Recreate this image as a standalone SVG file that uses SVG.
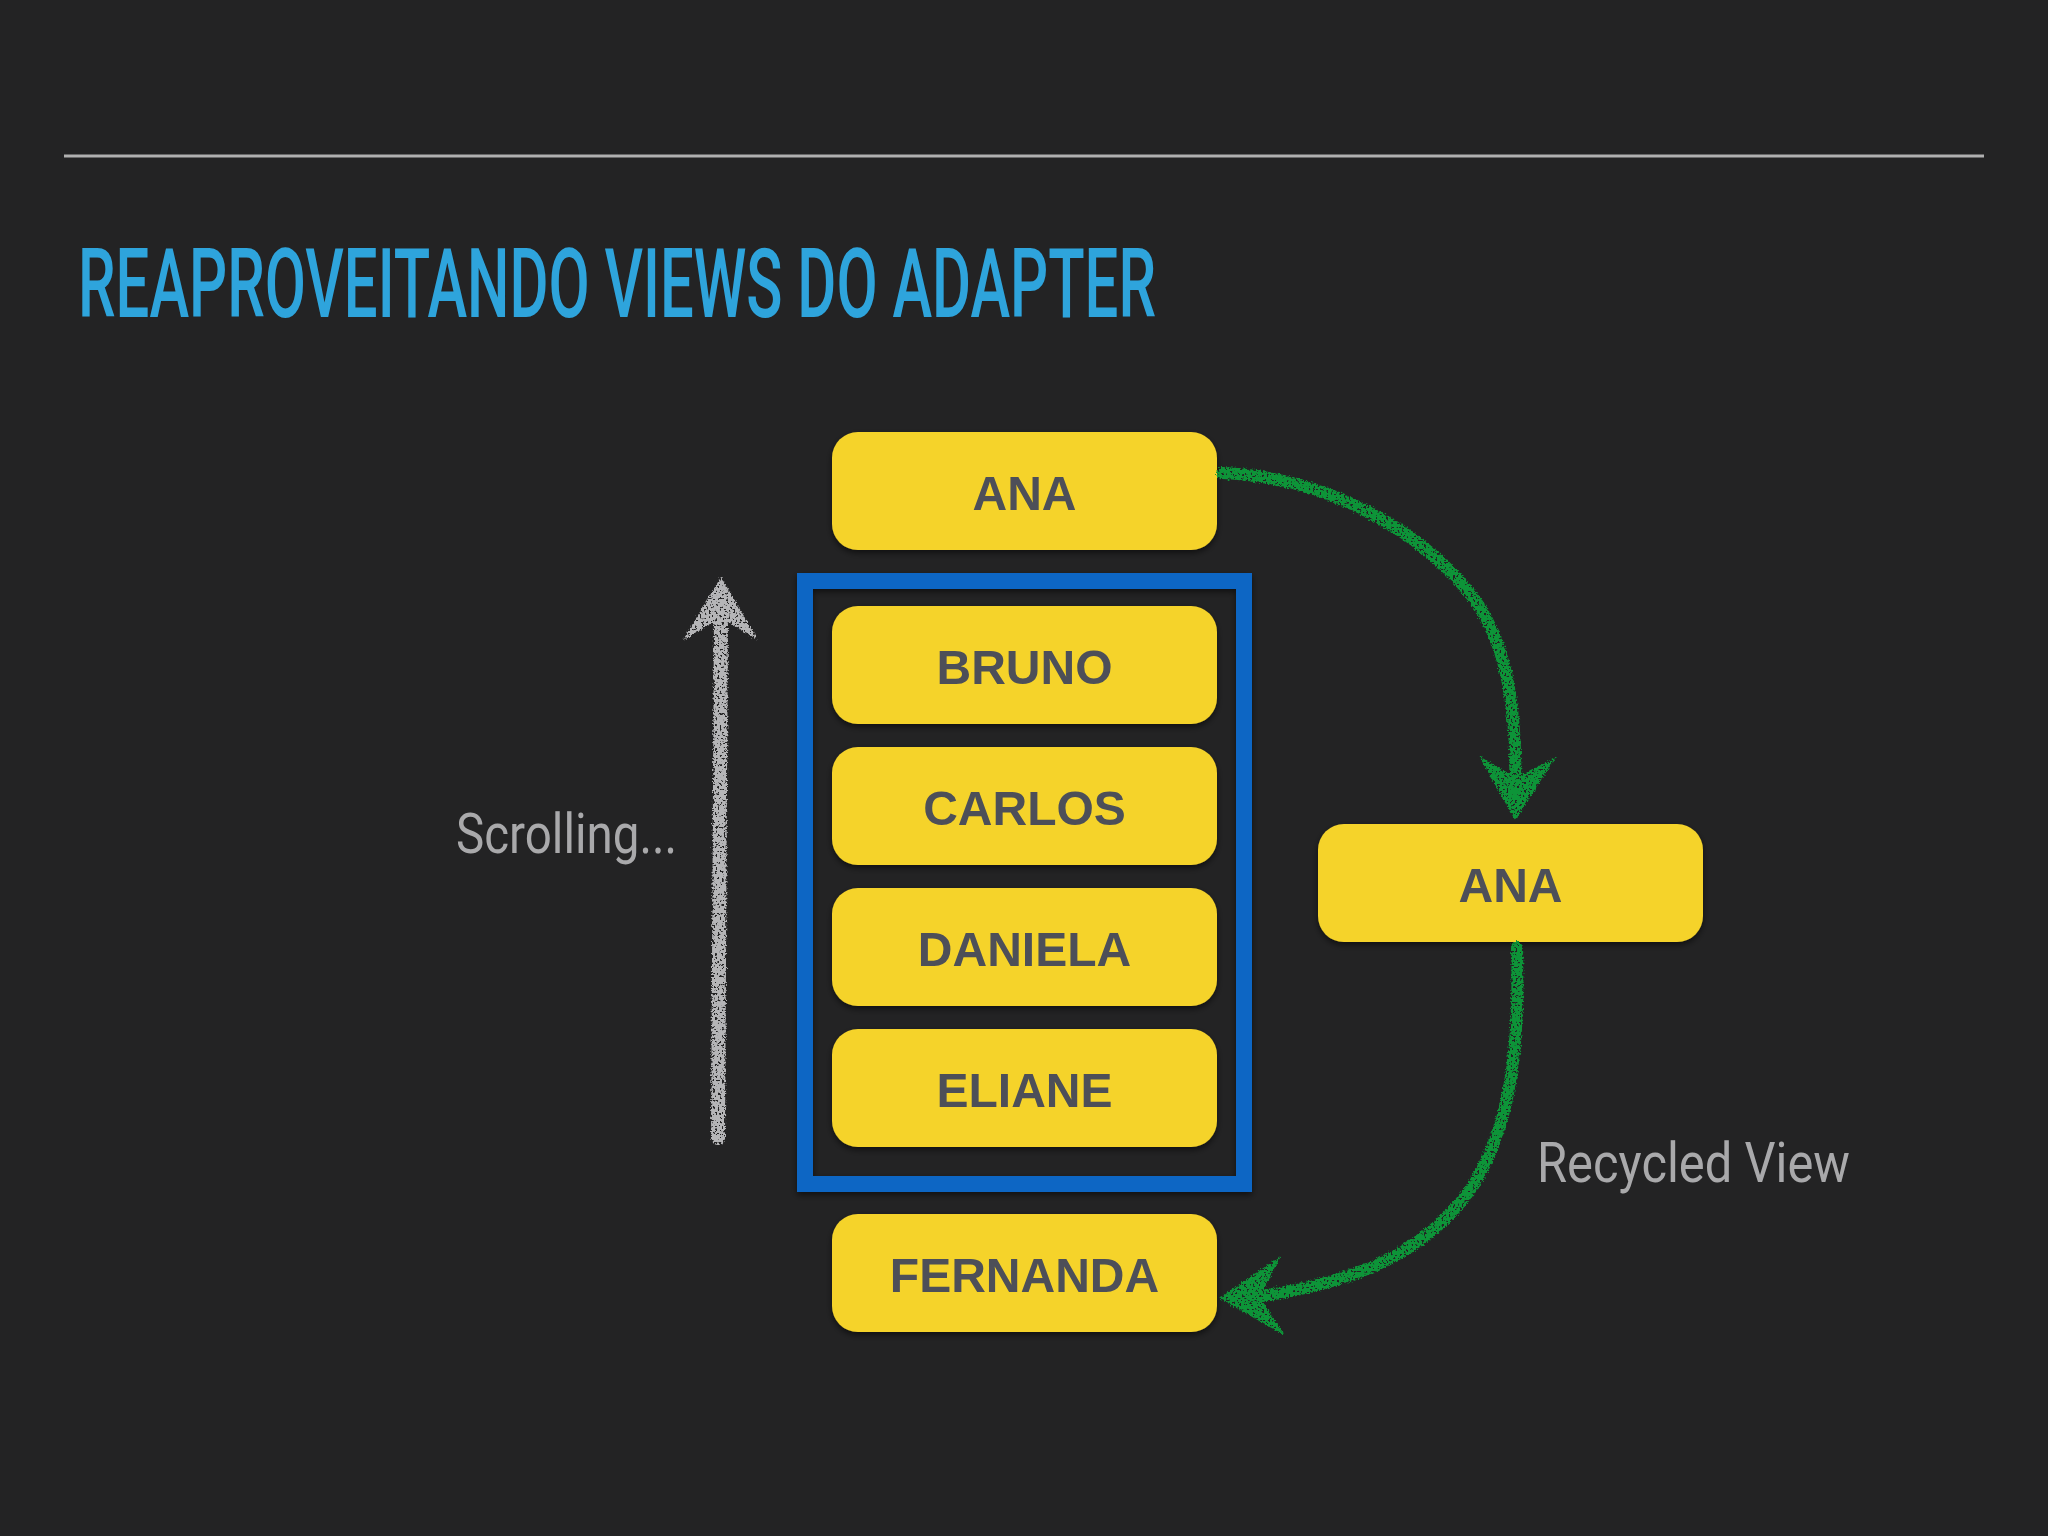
<svg xmlns="http://www.w3.org/2000/svg" width="2048" height="1536" viewBox="0 0 2048 1536">
  <style>
    .box { fill: #f5d32b; }
    .lbl { font-family: "Liberation Sans", Arial, sans-serif; font-weight: 700; font-size: 48px; fill: #4d5058; text-anchor: middle; }
    .note { font-family: Roboto, "Liberation Sans", sans-serif; font-size: 56px; fill: #a9a9ab; }
    .green { fill: none; stroke: #0b9437; stroke-width: 12; stroke-linecap: round; }
    .greenhead { fill: #0b9437; }
  </style>
  <defs>
    <filter id="shadow" x="-10%" y="-20%" width="120%" height="150%">
      <feDropShadow dx="0" dy="3" stdDeviation="3" flood-color="#000" flood-opacity="0.55"/>
    </filter>
    <filter id="chalk" x="-20%" y="-10%" width="140%" height="120%">
      <feTurbulence type="fractalNoise" baseFrequency="0.6" numOctaves="2" seed="3" result="n"/>
      <feDisplacementMap in="SourceGraphic" in2="n" scale="5" xChannelSelector="R" yChannelSelector="G" result="d"/>
      <feTurbulence type="fractalNoise" baseFrequency="0.45" numOctaves="2" seed="11" result="n2"/>
      <feColorMatrix in="n2" type="matrix" values="0 0 0 0 0  0 0 0 0 0  0 0 0 0 0  0 0 0 -14 9.4" result="m"/>
      <feComposite in="d" in2="m" operator="in"/>
    </filter>
  </defs>

  <rect x="0" y="0" width="2048" height="1536" fill="#232324"/>
  <line x1="64" y1="156" x2="1984" y2="156" stroke="#b0b0b0" stroke-width="3"/>
  <text x="78" y="317" font-family="Roboto, 'Liberation Sans', sans-serif" font-weight="500" font-size="97" fill="#2ea4dc" textLength="1078" lengthAdjust="spacingAndGlyphs">REAPROVEITANDO VIEWS DO ADAPTER</text>

  <g id="viewport">
    <rect x="805" y="581" width="439" height="603" fill="none" stroke="#0a66c4" stroke-width="16" filter="url(#shadow)"/>
  </g>

  <g id="ana-top" filter="url(#shadow)">
    <rect class="box" x="832" y="432" width="385" height="118" rx="26"/>
    <text class="lbl" x="1024.5" y="510">ANA</text>
  </g>
  <g id="bruno" filter="url(#shadow)">
    <rect class="box" x="832" y="606" width="385" height="118" rx="26"/>
    <text class="lbl" x="1024.5" y="684">BRUNO</text>
  </g>
  <g id="carlos" filter="url(#shadow)">
    <rect class="box" x="832" y="747" width="385" height="118" rx="26"/>
    <text class="lbl" x="1024.5" y="825">CARLOS</text>
  </g>
  <g id="daniela" filter="url(#shadow)">
    <rect class="box" x="832" y="888" width="385" height="118" rx="26"/>
    <text class="lbl" x="1024.5" y="966">DANIELA</text>
  </g>
  <g id="eliane" filter="url(#shadow)">
    <rect class="box" x="832" y="1029" width="385" height="118" rx="26"/>
    <text class="lbl" x="1024.5" y="1107">ELIANE</text>
  </g>
  <g id="fernanda" filter="url(#shadow)">
    <rect class="box" x="832" y="1214" width="385" height="118" rx="26"/>
    <text class="lbl" x="1024.5" y="1292">FERNANDA</text>
  </g>
  <g id="ana-recycled" filter="url(#shadow)">
    <rect class="box" x="1318" y="824" width="385" height="118" rx="26"/>
    <text class="lbl" x="1510.5" y="902">ANA</text>
  </g>

  <g id="scrolling">
    <text class="note" x="456" y="853" textLength="221" lengthAdjust="spacingAndGlyphs">Scrolling...</text>
    <g filter="url(#chalk)">
      <path d="M718,1138 L721,610" fill="none" stroke="#b5b5b7" stroke-width="14" stroke-linecap="round"/>
      <path d="M721,577 L758,640 L720,618 L683,640 Z" fill="#b5b5b7"/>
    </g>
  </g>

  <g id="connectors" filter="url(#chalk)">
    <path class="green" d="M1222,473 C1340,478 1430,540 1475,600 C1510,650 1517,720 1515,790"/>
    <path class="greenhead" d="M1515,820 L1556,757 L1516,778 L1479,756 Z"/>
    <path class="green" d="M1517,947 C1520,1050 1510,1130 1470,1190 C1420,1260 1340,1285 1255,1297"/>
    <path class="greenhead" d="M1219,1298 L1281,1256 L1260,1297 L1284,1335 Z"/>
  </g>

  <text class="note" x="1537" y="1182" textLength="313" lengthAdjust="spacingAndGlyphs">Recycled View</text>
</svg>
